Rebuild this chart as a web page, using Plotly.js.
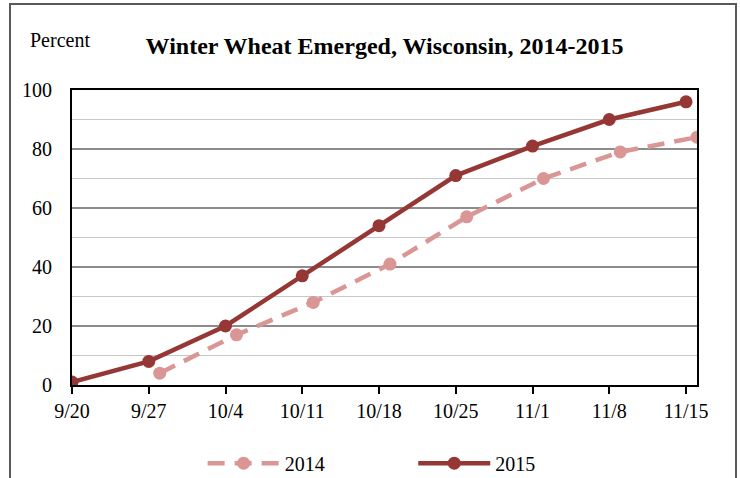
<!DOCTYPE html>
<html>
<head>
<meta charset="utf-8">
<script src="https://cdn.plot.ly/plotly-3.0.1.min.js"></script>
<style>
html,body{margin:0;padding:0;background:#fff;}
#wrap{position:relative;width:740px;height:478px;}
#chart{width:740px;height:478px;}
#frame{position:absolute;left:9px;top:3px;width:728px;height:490px;border:2px solid #595959;box-sizing:border-box;pointer-events:none;}
</style>
</head>
<body>
<div id="wrap"><div id="chart"></div><div id="frame"></div></div>
<script>
// Tick labels (week ending dates shown on the axis)
const tickLabels = ['9/20','9/27','10/4','10/11','10/18','10/25','11/1','11/8','11/15'];
// 2014 week-ending dates and values
const dates2014 = ['9/28','10/5','10/12','10/19','10/26','11/2','11/9','11/16'];
const values2014 = [4, 17, 28, 41, 57, 70, 79, 84];
// 2015 week-ending dates and values
const dates2015 = ['9/20','9/27','10/4','10/11','10/18','10/25','11/1','11/8','11/15'];
const values2015 = [1, 8, 20, 37, 54, 71, 81, 90, 96];

// convert M/D to day offset from 9/20 (same year basis)
function dayOf(md){
  const [m,d] = md.split('/').map(Number);
  const t = Date.UTC(2001, m-1, d);
  const base = Date.UTC(2001, 8, 20);
  return Math.round((t-base)/86400000);
}
const x2014 = dates2014.map(dayOf);
const x2015 = dates2015.map(dayOf);
const tickVals = tickLabels.map(dayOf);

const font = 'Liberation Serif, Times New Roman, serif';

const traces = [
  {x:x2014, y:values2014, name:'2014', type:'scatter', mode:'lines+markers',
   line:{color:'#D99694', width:4.5, dash:'17px,10px'},
   marker:{color:'#D99694', size:13}, legend:'legend'},
  {x:x2015, y:values2015, name:'2015', type:'scatter', mode:'lines+markers',
   line:{color:'#953735', width:4.5},
   marker:{color:'#953735', size:13}, legend:'legend2'}
];

const legBase = {orientation:'h', yref:'container', yanchor:'middle', y:0.031, xanchor:'left',
                 font:{family:font, size:20}, itemwidth:72, bgcolor:'rgba(0,0,0,0)'};

const layout = {
  width:740, height:478,
  margin:{l:72, r:43, t:90, b:93, autoexpand:false},
  paper_bgcolor:'#fff', plot_bgcolor:'#fff',
  font:{family:font, size:20, color:'#000'},
  title:{text:'<b>Winter Wheat Emerged, Wisconsin, 2014-2015</b>',
         font:{family:font, size:24, color:'#000'},
         x:0.5, xanchor:'center', y:0.905, yanchor:'middle', xref:'paper', yref:'container'},
  xaxis:{range:[0,57], tickvals:tickVals, ticktext:tickLabels, automargin:false,
         showgrid:false, zeroline:false, showline:true, mirror:true,
         linecolor:'#000', linewidth:2, ticks:'outside', ticklen:7, tickwidth:2, tickcolor:'#000',
         tickfont:{family:font, size:20}},
  yaxis:{range:[0,100], dtick:20, tick0:0, showgrid:true, gridcolor:'#8c8c8c', gridwidth:1.5,
         automargin:false,
         zeroline:false, showline:true, mirror:true, linecolor:'#000', linewidth:2,
         ticks:'', ticklabelstandoff:14, tickfont:{family:font, size:20},
         minor:{dtick:10, showgrid:true, gridcolor:'#c8c8c8', gridwidth:1.5}},
  showlegend:true,
  legend:Object.assign({}, legBase, {x:0.209}),
  legend2:Object.assign({}, legBase, {x:0.546}),
  annotations:[{text:'Percent', xref:'paper', yref:'paper', x:-0.07, xanchor:'left',
                y:1.17, yanchor:'middle', showarrow:false, font:{family:font, size:20}}]
};

Plotly.newPlot('chart', traces, layout, {displayModeBar:false, staticPlot:true});
</script>
</body>
</html>
